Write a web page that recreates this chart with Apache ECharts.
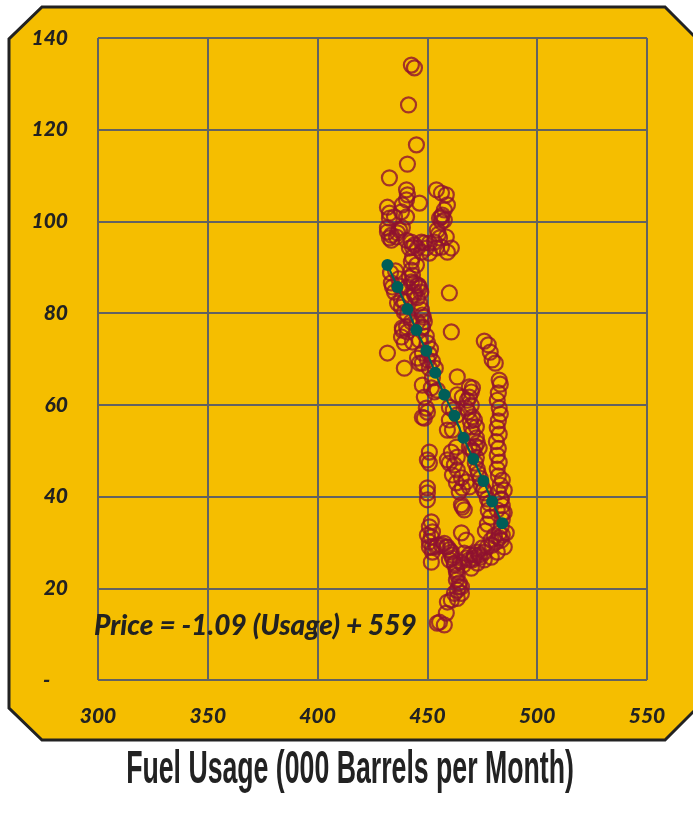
<!DOCTYPE html>
<html>
<head>
<meta charset="utf-8">
<script src="https://cdn.jsdelivr.net/npm/echarts@6/dist/echarts.min.js"></script>
<style>
html,body{margin:0;padding:0;background:#fff;}
#chart{width:693px;height:817px;}
</style>
</head>
<body>
<div id="chart"></div>
<script>
// Observed monthly points: [fuel usage (000 barrels), price]
const observedTop = [
[442.7,134.1],[444.1,133.5],[441.4,125.4],[445,116.7],[440.9,112.5],[432.7,109.5],
[440.5,106.9],[440.9,105.8],[440.5,104.7],[438.6,103.6],[438.2,102.1],[446.4,104],[431.8,103.1],[432.7,101.8],[432.7,100.7],[435,101],[440.5,101],
[454.1,106.9],[456.4,106.2],[458.6,105.8],[459.1,103.6],[457.7,102.5],[456.8,101.4],[455.5,100.7],[456.4,99.9],[456.4,101],[457.7,100.3],
[431.8,97.7],[432.7,96.4],[433.6,97],[436.4,97.5],[438.6,98.6],[431.8,98.6],[437.3,98.1],[435.9,96.6],[433.6,95.9],
[440.5,95.9],[442.7,95.5],[443.2,94.4],[441.8,94.2],[444.1,94.9],[447.3,95.5],[448.6,95.3],[445.5,94.2],[449.5,94.2],[450.9,95.3],[453.2,95.5],[455.5,96.4],[458.6,96.6],[456.4,94.4],[459.1,93.3],[460.9,94.2],[454.1,94.2],[450.9,93.1],[447.3,93.3],[443.2,92.2],[442.7,91.2],[445,90.5],[454.5,98.1],[455,97.2],
[460,84.4]
];
const observedUpperMid = [
[442.7,89.4],[443.2,88.3],[441.8,87.7],[442.7,86.8],[444.1,86.6],[445.5,86.1],[446.4,85.5],[444.1,84.6],[440.9,85.7],[444.1,84],[445.5,83.4],[446.4,82.2],[447.3,80.7],[447.7,79.6],[448.6,78.1],[447.7,76.8],
[433.6,86.6],[434.1,85.7],[435,84.6],[436.4,82.2],[438.2,81.3],[439.5,80.2],[440.9,79.6],[442.7,78.1],[440.5,77],[438.6,76.3],[445.5,78.1],[447.7,77],[433.2,88.8],[435.5,89.2],[437,87.5],
[437.3,85.9],[438.2,82.9],[439.5,82.5],[442.3,83.4],[446,86],[447,84.6],[448.2,79.1],
[431.8,71.3],[439.5,68],[463.6,66.1],[460.9,75.9],
[438.6,76.8],[438.2,74.8],[440.9,75.9],[439.5,73.5],[443.2,73.7],[446.4,74.1],[447.7,71.3],[445.5,70.2],[446.4,69.1],[447.7,69.1],[450,69.8],[450.9,68],[452.3,65.9],
[449.5,75],[450,73.5],[451.4,72.2],[450.9,71],[452.3,69.5],[453.6,68]
];
const observedMid = [
[447.7,64.3],[448.6,61.7],[451.8,63.7],[453.2,62.8],[454.5,63.2],[449.5,59.3],[448.6,57.1],[450,58.4],[447.7,57.3],[450.9,49.7],[450,48],[450.9,47.3],[450,41.9],[450,40.8],[450,39.3],
[463.6,62.2],[465.9,61.7],[469.1,63.9],[470.5,63.7],[468.2,61],[470,59.9],[467.7,59.3],[460,59.5],[461.8,58.9],[463.6,57.8],[460,56.7],[461.4,54.5],[459.1,54.5],[470.5,57.4],[471.4,56.7],[472.3,55.2],[470,55.2],[470.5,53.9],[472.3,52.8],[472.7,51.7],[473.6,50.6],[469.1,50.8],[470.5,50.2],[463.2,50.8],[463.6,48.6],[460.9,49.7],[459.1,48],[460,47.3],[462.3,46.9],[463.6,45.8],[461.4,44.7],[465.5,44.1],[467.7,43.2],[463.2,43],[465.9,41.9],[464.5,41],[469.1,42.1],[470,62.8],[469.1,61.7],[468.6,58.5],[469.5,56.5],
[471.8,51],[470.9,49.8],[472.3,48.5],[471.8,47.3],[472.7,46],[473.2,45],[474.1,44],[474.5,42.5],[475.5,41.5],[476.4,40.8],[477.3,39.5],[478.2,38.5],[477.7,37],[478.6,35.5],[477.3,34],[476.4,32.5],[479,30.5],[480.5,31.5]
];
const observedRight = [
[475.9,73.9],[477.7,73.1],[478.6,71.5],[479.5,69.8],[480.9,69.1],
[482.7,65.4],[483.2,64.5],[482.3,62.6],[481.8,61],[482.7,59.3],[483.2,58],[482.3,56.5],[481.8,55],[482.7,53.6],[481.4,52],[482.3,50.5],[481.8,49],[482.7,47.5],[481.8,46],[482.3,44.5],[483.2,42.5],[482.3,41],[483.6,39.5],[484.1,38],[485,36.5],[484.1,35],[483.6,33.5],[482.7,32],[483.6,30.5],
[484.1,43.6],[485,41.4],[483.6,39.3],[481.8,37.1],[484.1,36.4]
];
const observedLow = [
[465.9,37.7],[466.8,37.1],[465.5,38.2],[465.5,32.1],[467.7,30.5],
[451.8,34.5],[450.9,33.4],[452.3,32.3],[451.8,31.2],[450.9,30.1],[450,31.6],[450.9,29],[452.3,27.9],[451.8,25.7],
[452.3,29],[454.1,29],[456.4,29.4],[458.6,29],[460,28.4],[460.9,27.3],[461.4,26.6],[460,26.2],[462.3,25.1],[463.2,24],[463.6,22.9],[463.2,21.8],[464.5,21.2],[465.5,20.3],[463.6,19.6],[462.3,18.9],[460.9,17.4],[458.6,14.6],[455.5,12.6],[457.7,12],
[454.5,29.4],[457.7,29.8],[459.1,29],[460.9,27.9],[462.3,25.5],[463.2,23.6],[464.5,20.3],[465.5,18.9],[463.6,17.8],[459.1,17],[454.5,12.4],
[469.1,26.2],[471.4,26.6],[473.6,27.3],[475.9,27.9],[477.3,29],[479.5,29.4],[481.4,30.1],[482.7,31],[484.1,31.6],[485.9,32.1],[485,29],[481.8,27.9],[479.1,26.8],[475.9,26.2],[472.7,25.5],[470,24.4],
[466.8,27.7],[469.1,27.3],[471.4,27.3],[472.7,27.9],[475,28.8],[470.5,26.2],[474.1,26.8],[467.7,26.6],[465,25.7],[466.4,25.1]
];
// Fitted line points
const fitUsage = [431.8,436.4,440.9,445,449.5,453.6,457.7,462.3,466.4,470.9,475.5,479.5,484.1];
const fitPrice = [90.5,85.7,80.9,76.3,71.8,67.0,62.2,57.6,52.8,48.2,43.4,38.9,34.2];
const xTicks = [300,350,400,450,500,550];
const yTicks = [0,20,40,60,80,100,120,140];
const equationText = 'Price = -1.09 (Usage) + 559';
const xTitle = 'Fuel Usage (000 Barrels per Month)';

const observed = [].concat(observedTop, observedUpperMid, observedMid, observedRight, observedLow);
const fitData = fitUsage.map((u,i)=>[u, fitPrice[i]]);

const chart = echarts.init(document.getElementById('chart'), null, {renderer:'canvas'});
const labelFont = {fontFamily:'Lato', fontStyle:'italic', fontWeight:900, color:'#222'};
chart.setOption({
  backgroundColor:'#ffffff',
  animation:false,
  grid:{left:98, right:46, top:38, bottom:137},
  graphic:[
    {type:'polygon', z:-10, silent:true,
     shape:{points:[[42,7],[665,7],[700,42],[700,705],[665,740],[42,740],[9,708],[9,39]]},
     style:{fill:'#F5BE00', stroke:'#222', lineWidth:3}},
    {type:'text', z:50, left:94, top:612,
     style:{text:equationText, font:'italic 900 28px Lato', fill:'#222'}},
    {type:'text', z:50, x:350, y:770, scaleX:0.58, scaleY:1.0,
     style:{text:xTitle, font:'bold 46px "Liberation Sans", Arial, sans-serif', fill:'#222', textAlign:'center', textVerticalAlign:'middle'}}
  ],
  xAxis:{type:'value', min:300, max:550, interval:50,
    axisLine:{show:false}, axisTick:{show:false},
    axisLabel:Object.assign({fontSize:21, margin:26, formatter:v=>xTicks.includes(v)?String(v):''}, labelFont),
    splitLine:{show:true, lineStyle:{color:'#626262', width:2}}},
  yAxis:{type:'value', min:0, max:140, interval:20,
    axisLine:{show:false}, axisTick:{show:false},
    axisLabel:Object.assign({fontSize:21, margin:30, formatter:v=>v===0?'-    ':(yTicks.includes(v)?String(v):'')}, labelFont),
    splitLine:{show:true, lineStyle:{color:'#626262', width:2}}},
  series:[
    {type:'scatter', data:observed, symbol:'circle', symbolSize:15, z:3,
     itemStyle:{color:'rgba(0,0,0,0)', borderColor:'#8E1230', borderWidth:2.2}},
    {type:'line', data:fitData, symbol:'circle', symbolSize:12, z:5,
     lineStyle:{color:'#005E58', width:2},
     itemStyle:{color:'#005E58', borderWidth:0}}
  ]
});
</script>
</body>
</html>
